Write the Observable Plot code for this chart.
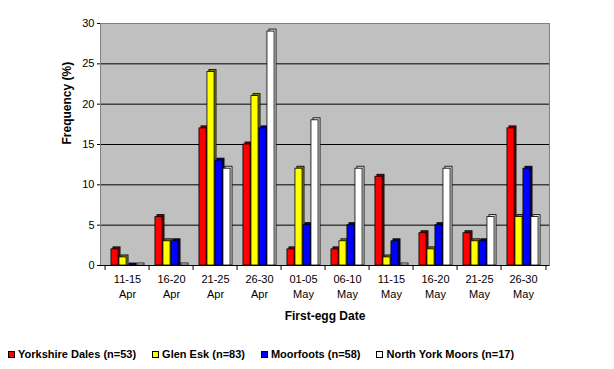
<!DOCTYPE html>
<html>
<head>
<meta charset="utf-8">
<script src="https://cdn.jsdelivr.net/npm/d3@7"></script>
<script src="https://cdn.jsdelivr.net/npm/@observablehq/plot@0.6"></script>
<style>
  body { margin: 0; background: #fff; font-family: "Liberation Sans", Arial, sans-serif; }
  #chart { width: 614px; }
  .legend { display: flex; align-items: center; padding-left: 8px; margin-top: 17px; font-size: 11px; font-weight: bold; color: #000; line-height: 14px; }
  .item { display: flex; align-items: center; margin-right: 16px; }
  .sw { width: 5px; height: 5px; border: 1px solid #000; margin-right: 3px; }
</style>
</head>
<body>
<div id="chart"></div>
<script>
// ---- data ----
const categories = ["11-15 Apr", "16-20 Apr", "21-25 Apr", "26-30 Apr", "01-05 May", "06-10 May", "11-15 May", "16-20 May", "21-25 May", "26-30 May"];
const seriesNames = ["Yorkshire Dales (n=53)", "Glen Esk (n=83)", "Moorfoots (n=58)", "North York Moors (n=17)"];
const yorkshireDales = [2, 6, 17, 15, 2, 2, 11, 4, 4, 17];
const glenEsk = [1, 3, 24, 21, 12, 3, 1, 2, 3, 6];
const moorfoots = [0, 3, 13, 17, 5, 5, 3, 5, 3, 12];
const northYorkMoors = [0, 0, 12, 29, 18, 12, 0, 12, 6, 6];
const yTicks = [0, 5, 10, 15, 20, 25, 30];

const seriesValues = [yorkshireDales, glenEsk, moorfoots, northYorkMoors];
const fills = ["#ff0000", "#ffff00", "#0000ff", "#ffffff"];
const sides = ["#800000", "#808000", "#000080", "#d8d8d8"];

const W = 614, H = 330, mL = 100, mR = 65, mT = 23, mB = 65;
const bw = (W - mL - mR) / categories.length;
const barW = 8;
const inset = (bw - barW) / 2;
const depth = 2;

const marks = [
  Plot.frame({fill: "#c0c0c0", stroke: null}),
  Plot.ruleY(yTicks.filter(d => d > 0 && d < 30), {stroke: "#000", strokeWidth: 1})
];

seriesValues.forEach((vals, i) => {
  const data = categories.map((c, j) => ({date: c, value: vals[j], series: seriesNames[i]}));
  const off = (i - 1.5) * barW - 0.5;
  marks.push(Plot.barY(data, {x: "date", y: "value", fill: sides[i], stroke: "#000", strokeWidth: 0.8,
    insetLeft: inset, insetRight: inset, insetTop: -depth, dx: off + depth}));
  marks.push(Plot.barY(data, {x: "date", y: "value", fill: fills[i], stroke: "#000", strokeWidth: 0.8,
    insetLeft: inset, insetRight: inset, dx: off}));
});

marks.push(
  Plot.frame({stroke: "#808080", fill: null}),
  Plot.ruleY([0], {stroke: "#000", strokeWidth: 1}),
  Plot.axisX({tickSize: 5, dx: -bw / 2, tickFormat: () => "", label: null}),
  Plot.axisX([categories[categories.length - 1]], {tickSize: 5, dx: bw / 2, tickFormat: () => "", label: null}),
  Plot.axisX({tickSize: 0, tickPadding: 7, fontSize: 11, lineHeight: 1.36, tickFormat: d => d.replace(" ", "\n"), label: null}),
  Plot.axisY({ticks: yTicks, tickSize: 3, tickPadding: 3, fontSize: 11, label: null}),
  Plot.text(["First-egg Date"], {frameAnchor: "bottom", dy: 54, fontSize: 12, fontWeight: "bold", fill: "#000"}),
  Plot.text(["Frequency (%)"], {frameAnchor: "left", dx: -33, rotate: -90, fontSize: 12, fontWeight: "bold", fill: "#000"})
);

const chart = Plot.plot({
  width: W, height: H,
  marginLeft: mL, marginRight: mR, marginTop: mT, marginBottom: mB,
  style: {fontFamily: '"Liberation Sans", Arial, sans-serif', color: "#000", background: "#fff", overflow: "visible"},
  x: {type: "band", domain: categories, padding: 0, axis: null},
  y: {domain: [0, 30], axis: null},
  marks
});
document.getElementById("chart").appendChild(chart);

// legend
const legend = document.createElement("div");
legend.className = "legend";
seriesNames.forEach((name, i) => {
  const item = document.createElement("div");
  item.className = "item";
  const sw = document.createElement("span");
  sw.className = "sw";
  sw.style.background = fills[i];
  const label = document.createElement("span");
  label.textContent = name;
  item.appendChild(sw);
  item.appendChild(label);
  legend.appendChild(item);
});
document.getElementById("chart").appendChild(legend);
</script>
</body>
</html>
